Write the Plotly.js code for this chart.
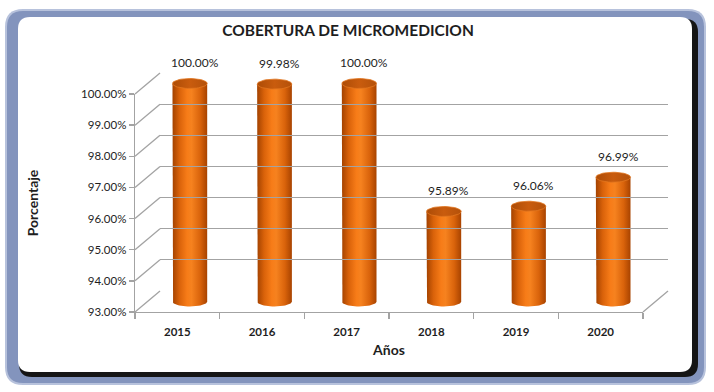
<!DOCTYPE html>
<html>
<head>
<meta charset="utf-8">
<script src="https://cdn.plot.ly/plotly-3.0.1.min.js"></script>
<style>
html,body{margin:0;padding:0;background:#ffffff;}
#chart{width:714px;height:392px;}
</style>
</head>
<body>
<div id="chart"></div>
<script>
// ---- data ----
const years = ['2015', '2016', '2017', '2018', '2019', '2020'];
const coverage = [100.00, 99.98, 100.00, 95.89, 96.06, 96.99];
const valueLabels = ['100.00%', '99.98%', '100.00%', '95.89%', '96.06%', '96.99%'];
const yTickVals = [93, 94, 95, 96, 97, 98, 99, 100];
const yTickText = ['93.00%', '94.00%', '95.00%', '96.00%', '97.00%', '98.00%', '99.00%', '100.00%'];
const chartTitle = 'COBERTURA DE MICROMEDICION';
const xTitle = 'Años';
const yTitle = 'Porcentaje';

// ---- geometry (pixels) ----
const W = 714, H = 392;
const FX0 = 135, FX1 = 643, FY0 = 312, FY1 = 94;   // front plane
const DX = 25, DY = -21;                           // depth offset to back wall
const YMIN = 93, YMAX = 100;
const PAD = 1;                                     // extra value units around the mid plane (no clipping)
const px = x => x / W;
const py = y => 1 - y / H;
const ppuY = (FY0 - FY1) / (YMAX - YMIN);
const ppuX = (FX1 - FX0) / years.length;

const FONT = 'Lato, "Open Sans", "DejaVu Sans", sans-serif';
const TXT = '#1e1e1e';
const GRID = '#a3a3a3';

// ---- traces ----
const traces = [];
traces.push({type: 'scatter', x: years, y: coverage, mode: 'none', xaxis: 'x', yaxis: 'y', hoverinfo: 'skip', showlegend: false});
traces.push({type: 'scatter', x: [0], y: [YMIN], mode: 'none', xaxis: 'x3', yaxis: 'y3', hoverinfo: 'skip', showlegend: false});

// cylinders in the mid-depth plane (x2/y2)
const halfW = 0.205;
const ell = 5 / ppuY;
const N = 24;
coverage.forEach((v, i) => {
  const xs = [], ys = [];
  xs.push(i - halfW); ys.push(v);
  for (let k = 0; k <= N; k++) {
    const t = Math.PI * k / N;
    xs.push(i - halfW * Math.cos(t));
    ys.push(YMIN - ell * Math.sin(t));
  }
  xs.push(i + halfW); ys.push(v);
  xs.push(i - halfW); ys.push(v);
  traces.push({
    type: 'scatter', x: xs, y: ys, xaxis: 'x2', yaxis: 'y2', mode: 'lines',
    line: {width: 0}, fill: 'toself',
    fillgradient: {type: 'horizontal', colorscale: [[0, '#a34200'], [0.2, '#d9620a'], [0.42, '#f77c18'], [0.55, '#f6821f'], [0.8, '#d9630b'], [1, '#a84300']]},
    hoverinfo: 'skip', showlegend: false
  });
  const tx = [], ty = [];
  for (let k = 0; k <= 2 * N; k++) {
    const t = Math.PI * k / N;
    tx.push(i + halfW * Math.cos(t));
    ty.push(v + ell * Math.sin(t));
  }
  traces.push({
    type: 'scatter', x: tx, y: ty, xaxis: 'x2', yaxis: 'y2', mode: 'lines',
    line: {width: 0.8, color: '#e2761f'}, fill: 'toself',
    fillgradient: {type: 'horizontal', colorscale: [[0, '#ad4c06'], [0.5, '#c95c0e'], [1, '#b4510a']]},
    hoverinfo: 'skip', showlegend: false
  });
});

// ---- frame, side wall & floor lines (paper) ----
const shapes = [];
function rr(x0, y0, x1, y1, r) {
  return 'M' + px(x0 + r) + ',' + py(y0) +
    ' L' + px(x1 - r) + ',' + py(y0) +
    ' Q' + px(x1) + ',' + py(y0) + ' ' + px(x1) + ',' + py(y0 + r) +
    ' L' + px(x1) + ',' + py(y1 - r) +
    ' Q' + px(x1) + ',' + py(y1) + ' ' + px(x1 - r) + ',' + py(y1) +
    ' L' + px(x0 + r) + ',' + py(y1) +
    ' Q' + px(x0) + ',' + py(y1) + ' ' + px(x0) + ',' + py(y1 - r) +
    ' L' + px(x0) + ',' + py(y0 + r) +
    ' Q' + px(x0) + ',' + py(y0) + ' ' + px(x0 + r) + ',' + py(y0) + ' Z';
}
shapes.push({type: 'path', xref: 'paper', yref: 'paper', path: rr(5, 9, 706, 385, 18), fillcolor: '#b7c2dc', line: {width: 0}, layer: 'below'});
shapes.push({type: 'path', xref: 'paper', yref: 'paper', path: rr(7, 11, 704, 383, 16), fillcolor: '#8394bd', line: {width: 0}, layer: 'below'});
shapes.push({type: 'path', xref: 'paper', yref: 'paper', path: rr(19, 19, 698, 377, 13), fillcolor: '#151515', line: {width: 0}, layer: 'below'});
shapes.push({type: 'path', xref: 'paper', yref: 'paper', path: rr(18, 17, 692, 372, 12), fillcolor: '#ffffff', line: {width: 0}, layer: 'below'});

yTickVals.forEach(v => {
  const yf = FY0 - (v - YMIN) * ppuY;
  shapes.push({type: 'line', xref: 'paper', yref: 'paper', x0: px(FX0), y0: py(yf), x1: px(FX0 + DX), y1: py(yf + DY),
    line: {color: GRID, width: 1.3}, layer: 'below'});
});
shapes.push({type: 'line', xref: 'paper', yref: 'paper', x0: px(FX1), y0: py(FY0), x1: px(FX1 + DX), y1: py(FY0 + DY),
  line: {color: GRID, width: 1.3}, layer: 'below'});

// ---- data labels ----
const annotations = coverage.map((v, i) => ({
  x: i, y: v, xref: 'x2', yref: 'y2', text: valueLabels[i], showarrow: false,
  xshift: 5, yshift: 21, font: {family: FONT, size: 12, color: TXT}
}));

const layout = {
  width: W, height: H,
  margin: {l: 0, r: 0, t: 0, b: 0},
  paper_bgcolor: '#ffffff', plot_bgcolor: 'rgba(0,0,0,0)',
  showlegend: false,
  title: {text: '<b>' + chartTitle + '</b>', x: px(348), xanchor: 'center', y: py(31), yanchor: 'middle',
    font: {family: FONT, size: 15.5, color: TXT}},
  xaxis: {
    type: 'category', domain: [px(FX0), px(FX1)], anchor: 'y', range: [-0.5, years.length - 0.5],
    tickson: 'boundaries', ticks: 'outside', ticklen: 6, tickcolor: GRID, tickwidth: 1.3,
    showline: true, linecolor: GRID, linewidth: 1.3, showgrid: false, zeroline: false,
    tickfont: {family: FONT, size: 11.5, color: TXT, weight: 'bold'}, ticklabelstandoff: 9,
    title: {text: '<b>' + xTitle + '</b>', font: {family: FONT, size: 14, color: TXT}, standoff: 8},
    fixedrange: true
  },
  yaxis: {
    domain: [py(FY0), py(FY1)], anchor: 'x', range: [YMIN, YMAX],
    tickvals: yTickVals, ticktext: yTickText, ticks: 'outside', ticklen: 5, tickcolor: GRID, tickwidth: 1.3,
    showline: true, linecolor: GRID, linewidth: 1.3, showgrid: false, zeroline: false,
    tickfont: {family: FONT, size: 11.5, color: TXT},
    title: {text: '<b>' + yTitle + '</b>', font: {family: FONT, size: 14, color: TXT}, standoff: 39},
    fixedrange: true
  },
  xaxis2: {domain: [px(FX0 + DX / 2), px(FX1 + DX / 2)], anchor: 'y2', range: [-0.5, years.length - 0.5], visible: false, fixedrange: true},
  yaxis2: {domain: [py(FY0 + DY / 2 + PAD * ppuY), py(FY1 + DY / 2 - PAD * ppuY)], anchor: 'x2', range: [YMIN - PAD, YMAX + PAD], visible: false, fixedrange: true},
  xaxis3: {domain: [px(FX0 + DX), px(FX1 + DX)], anchor: 'y3', range: [-0.5, years.length - 0.5],
    showgrid: false, zeroline: false, showticklabels: false, ticks: '', showline: false, fixedrange: true},
  yaxis3: {domain: [py(FY0 + DY), py(FY1 + DY)], anchor: 'x3', range: [YMIN - 0.002, YMAX + 0.002],
    tickvals: yTickVals, showgrid: true, gridcolor: GRID, gridwidth: 1.3, zeroline: false,
    showticklabels: false, ticks: '', showline: false, fixedrange: true},
  shapes: shapes,
  annotations: annotations
};

Plotly.newPlot('chart', traces, layout, {staticPlot: true, displayModeBar: false});
</script>
</body>
</html>
